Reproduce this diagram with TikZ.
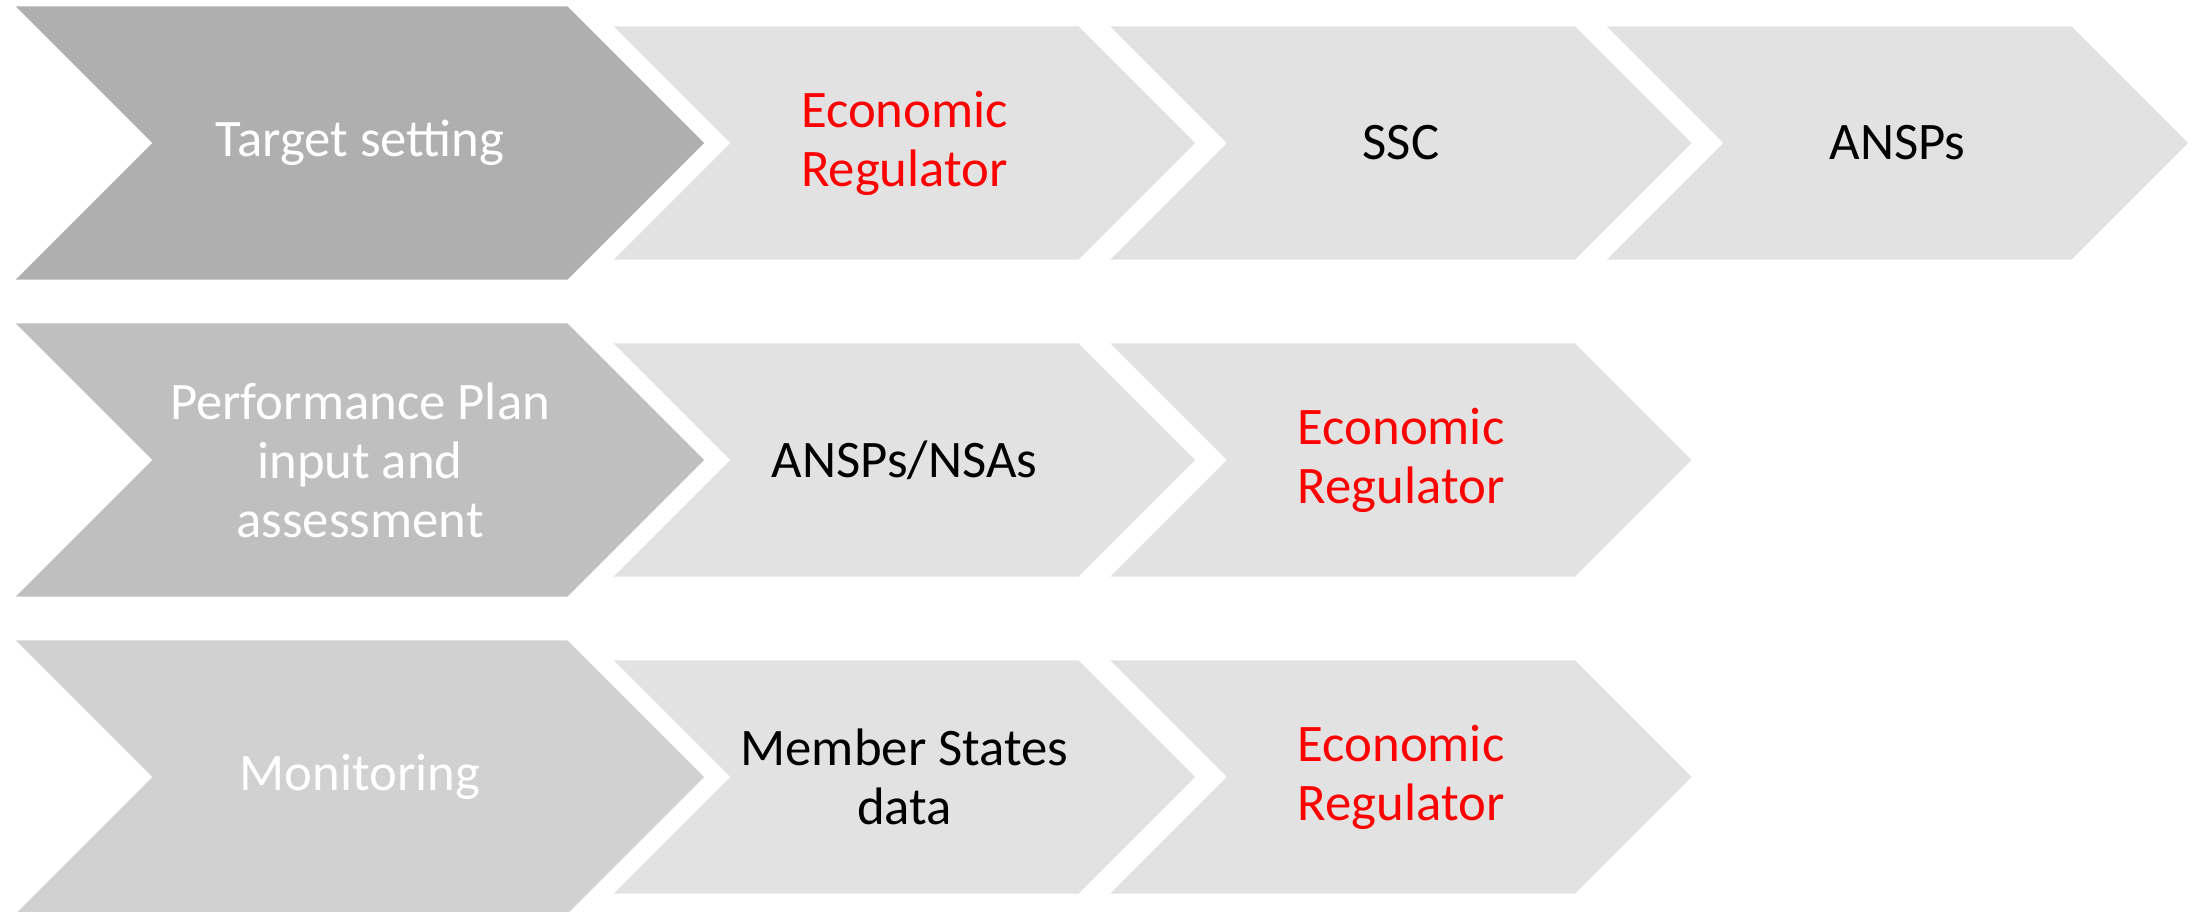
\documentclass[tikz,border=0pt]{standalone}
\usepackage{fontspec}
\setmainfont{Carlito}
\usetikzlibrary{shapes.symbols}
\definecolor{stageone}{HTML}{AFAFAF}
\definecolor{stagetwo}{HTML}{BFBFBF}
\definecolor{stagethree}{HTML}{D1D1D1}
\definecolor{actorfill}{HTML}{E2E2E2}
\definecolor{regred}{HTML}{FF0000}

\begin{document}
\begin{tikzpicture}[x=0.01cm, y=-0.01cm,
    chev/.style={signal, signal to=east, signal from=west, signal pointer angle=90,
        inner sep=0pt, outer sep=0pt, align=center, font=\fontsize{15}{16.8}\selectfont},
    stage/.style={chev, minimum width=6.88cm, minimum height=2.73cm, text=white},
    actor/.style={chev, fill=actorfill, minimum width=5.81cm, minimum height=2.33cm},
    reg/.style={actor, text=regred},
]
    \useasboundingbox (0,0) rectangle (2199,912);

    % Stages
    \node[stage, fill=stageone] (target) at (360,143) {Target setting};
    \node[stage, fill=stagetwo] (plan) at (360,460) {Performance Plan\\input and\\assessment};
    \node[stage, fill=stagethree] (monitor) at (360,777) {Monitoring};

    % Target setting actors
    \node[reg] (target-reg) at (904.5,143) {Economic\\Regulator};
    \node[actor] (target-ssc) at (1401,143) {SSC};
    \node[actor] (target-ansp) at (1897.5,143) {ANSPs};

    % Plan actors
    \node[actor] (plan-ansp) at (904.5,460) {ANSPs/NSAs};
    \node[reg] (plan-reg) at (1401,460) {Economic\\Regulator};

    % Monitoring actors
    \node[actor] (monitor-ms) at (904.5,777) {Member States\\data};
    \node[reg] (monitor-reg) at (1401,777) {Economic\\Regulator};
\end{tikzpicture}
\end{document}
